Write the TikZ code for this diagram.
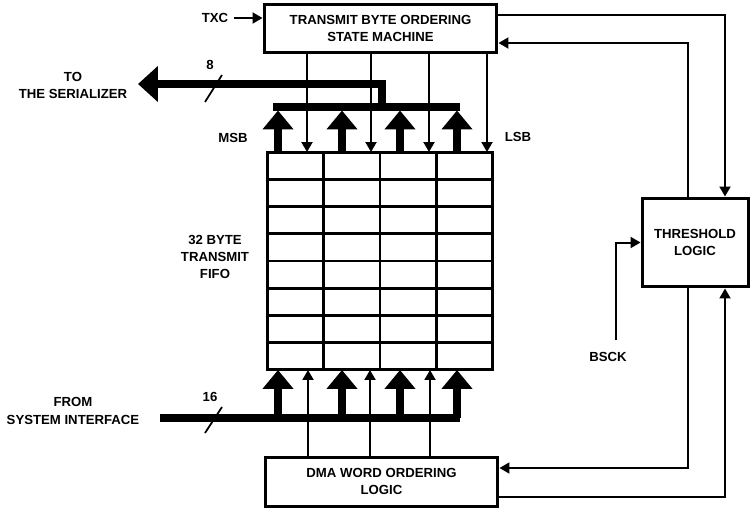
\documentclass[tikz,border=0pt]{standalone}
\usepackage{fontspec}
\setmainfont{Liberation Sans}
\usetikzlibrary{arrows.meta, calc}
\tikzset{
  block/.style = {rectangle, draw, line width=0.06cm, align=center, inner sep=0pt,
                  font=\bfseries\fontsize{7.5}{9.6}\selectfont},
  lbl/.style = {align=center, font=\bfseries\fontsize{7.5}{9.8}\selectfont},
  arrow/.style = {-{Triangle[width=0.22cm, length=0.2cm]}, line width=0.04cm},
  bigarrow/.style = {-{Triangle[width=0.6cm, length=0.38cm]}, line width=0.17cm},
  bus/.style = {line width=0.15cm},
  grid/.style = {line width=0.055cm},
  tick/.style = {line width=0.035cm},
}

\begin{document}
\begin{tikzpicture}[x=0.02cm, y=-0.02cm]
  \useasboundingbox (0,0) rectangle (750,510);

  % --- Blocks ---
  \node[block, minimum width=4.66cm, minimum height=0.98cm] at (380.5,28.5) (tbosm)
    {TRANSMIT BYTE ORDERING\\STATE MACHINE};
  \node[block, outer sep=0pt, minimum width=4.52cm, minimum height=4.36cm] at (380,261) (fifo) {};
  \node[block, minimum width=4.66cm, minimum height=0.98cm] at (381.5,481.5) (dma)
    {DMA WORD ORDERING\\LOGIC};
  \node[block, minimum width=2.12cm, minimum height=1.78cm] at (695,242.5) (thresh)
    {THRESHOLD\\LOGIC};

  % FIFO cells
  \foreach \i in {1,...,7}
    \draw[grid] ($(fifo.north west)!\i/8!(fifo.south west)$) -- ($(fifo.north east)!\i/8!(fifo.south east)$);
  \foreach \j in {1,2,3}
    \draw[grid] ($(fifo.north west)!\j/4!(fifo.north east)$) -- ($(fifo.south west)!\j/4!(fifo.south east)$);

  % --- Labels ---
  \node[lbl] at (215,18) (txc) {TXC};
  \node[lbl] at (73,85.5) (toser) {TO\\THE SERIALIZER};
  \node[lbl] at (210,65) (eight) {8};
  \node[lbl] at (233,138) (msb) {MSB};
  \node[lbl] at (518,137) (lsb) {LSB};
  \node[lbl] at (215,257) (fifolbl) {32 BYTE\\TRANSMIT\\FIFO};
  \node[lbl] at (73,411) (sysif) {FROM\\SYSTEM INTERFACE};
  \node[lbl] at (210,397) (sixteen) {16};
  \node[lbl] at (608,357) (bsck) {BSCK};

  % --- Bus points ---
  \coordinate (serial) at (138,84);
  \coordinate (obTurn) at (382,107);
  \coordinate (obL) at (273,107);
  \coordinate (obR) at (460,107);
  \coordinate (ibL) at (160,418);
  \coordinate (ibR) at (460,418);
  \coordinate (bsckin) at (616,340);

  % Output bus (8)
  \draw[bus] (obL) -- (obR);
  \draw[bus, -{Triangle[width=0.7cm, length=0.4cm]}] (obTurn) |- (serial);
  \draw[tick] (205,102) -- (222,75);

  % Input bus (16)
  \draw[bus] (ibL) -- (ibR);
  \draw[tick] (205,433) -- (222,407);

  % Byte lanes
  \foreach \x in {278,342,400,457} {
    \draw[bigarrow, shorten >=0.07cm] (fifo.north -| \x,0) -- (obL -| \x,0);
    \draw[bigarrow] (ibL -| \x,0) -- (fifo.south -| \x,0);
  }

  % Control lanes
  \foreach \x in {307,371,429,487}
    \draw[arrow] (tbosm.south -| \x,0) -- (fifo.north -| \x,0);
  \foreach \x in {308,370,430}
    \draw[arrow] (dma.north -| \x,0) -- (fifo.south -| \x,0);

  % --- Threshold loops ---
  \draw[arrow] (txc.east) -- (tbosm.west |- txc.east);
  \draw[arrow] (tbosm.east |- 0,15) -| (thresh.north -| 725,0);
  \draw[arrow] (thresh.north -| 688,0) |- (tbosm.east |- 0,43);
  \draw[arrow] (thresh.south -| 688,0) |- (dma.east |- 0,468);
  \draw[arrow] (dma.east |- 0,497) -| (thresh.south -| 725,0);
  \draw[arrow] (bsckin) |- (thresh.west);
\end{tikzpicture}
\end{document}
